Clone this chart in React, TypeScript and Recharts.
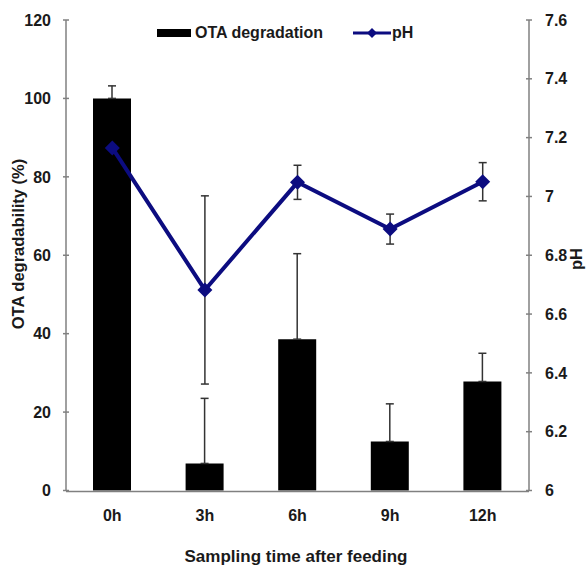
import React from "react";
import { ComposedChart, Bar, Line, XAxis, YAxis, ErrorBar, Legend } from "recharts";

const categories = ["0h", "3h", "6h", "9h", "12h"];
const otaDegradation = [100, 6.9, 38.6, 12.5, 27.8];
const otaErrorUp = [3.2, 16.6, 21.8, 9.6, 7.2];
const phValues = [7.165, 6.682, 7.048, 6.889, 7.05];
const phError = [0, 0.32, 0.058, 0.051, 0.065];
const otaTicks = [0, 20, 40, 60, 80, 100, 120];
const phTicks = [6, 6.2, 6.4, 6.6, 6.8, 7, 7.2, 7.4, 7.6];
const edgeTicks = [0, 1, 2, 3, 4, 5];

const data = categories.map((c, i) => ({
  time: c,
  ota: otaDegradation[i],
  otaErr: [0, otaErrorUp[i]],
  ph: phValues[i],
  phErr: phError[i],
}));

const FONT = "'Liberation Sans', Arial, sans-serif";
const NAVY = "#0C0C80";
const AXIS = "#808080";
const TEXT = "#1a1a1a";
const tickStyle = { fontFamily: FONT, fontWeight: "bold", fontSize: 16, fill: TEXT };

const Diamond = (props: any) => {
  const { cx, cy, index } = props;
  if (cx == null || cy == null) return <g key={`d-${index}`} />;
  const r = 7.5;
  return (
    <path
      key={`d-${index}`}
      d={`M${cx},${cy - r}L${cx + r},${cy}L${cx},${cy + r}L${cx - r},${cy}Z`}
      fill={NAVY}
    />
  );
};

const renderLegend = () => (
  <svg width={587} height={26} style={{ display: "block" }}>
    <rect x={157} y={9} width={34} height={8} fill="#000" />
    <text x={195} y={18} fontFamily={FONT} fontWeight="bold" fontSize={16} fill={TEXT}>
      OTA degradation
    </text>
    <line x1={353} y1={13} x2={391} y2={13} stroke={NAVY} strokeWidth={3} />
    <path d="M372,8L377,13L372,18L367,13Z" fill={NAVY} />
    <text x={392} y={18} fontFamily={FONT} fontWeight="bold" fontSize={16} fill={TEXT}>
      pH
    </text>
  </svg>
);

const leftTitle = () => (
  <text
    x={24}
    y={244}
    transform="rotate(-90 24 244)"
    textAnchor="middle"
    fontFamily={FONT}
    fontWeight="bold"
    fontSize={16.5}
    fill={TEXT}
  >
    OTA degradability (%)
  </text>
);

const rightTitle = () => (
  <text
    x={582}
    y={259}
    transform="rotate(-90 582 259)"
    textAnchor="middle"
    fontFamily={FONT}
    fontWeight="bold"
    fontSize={16.5}
    fill={TEXT}
  >
    pH
  </text>
);

const bottomTitle = () => (
  <text
    x={296}
    y={562}
    textAnchor="middle"
    fontFamily={FONT}
    fontWeight="bold"
    fontSize={17}
    fill={TEXT}
  >
    Sampling time after feeding
  </text>
);

export default function App() {
  return (
    <div style={{ position: "absolute", left: 0, top: 0, width: 587, height: 567, background: "#fff" }}>
      <ComposedChart
        width={587}
        height={567}
        data={data}
        margin={{ top: 20, right: 0, bottom: 74.5, left: 6 }}
      >
        <XAxis
          xAxisId="edge"
          type="number"
          domain={[0, 5]}
          ticks={edgeTicks}
          height={1}
          tick={false}
          tickSize={8}
          tickLine={{ stroke: AXIS, strokeWidth: 1.5, transform: "translate(0,-4)" }}
          axisLine={{ stroke: AXIS, strokeWidth: 1.5 }}
          allowDataOverflow
        />
        <XAxis
          xAxisId="cat"
          dataKey="time"
          type="category"
          height={1}
          axisLine={false}
          tickLine={false}
          tickSize={0}
          tickMargin={19}
          tick={tickStyle}
          interval={0}
          label={bottomTitle}
        />
        <YAxis
          yAxisId="ota"
          width={60}
          domain={[0, 120]}
          ticks={otaTicks}
          tickSize={6}
          tickMargin={9}
          tick={tickStyle}
          tickLine={{ stroke: AXIS, strokeWidth: 1.5, transform: "translate(3,0)" }}
          axisLine={{ stroke: AXIS, strokeWidth: 1.5 }}
          interval={0}
          label={leftTitle}
        />
        <YAxis
          yAxisId="ph"
          orientation="right"
          width={58}
          domain={[6, 7.6]}
          ticks={phTicks}
          tickSize={6}
          tickMargin={10}
          tick={tickStyle}
          tickLine={{ stroke: AXIS, strokeWidth: 1.5, transform: "translate(-3,0)" }}
          axisLine={{ stroke: AXIS, strokeWidth: 1.5 }}
          interval={0}
          label={rightTitle}
        />
        <Legend
          layout="horizontal"
          verticalAlign="middle"
          align="center"
          wrapperStyle={{ top: 20, left: 0, width: 587, height: 26 }}
          content={renderLegend}
        />
        <Bar
          xAxisId="cat"
          yAxisId="ota"
          dataKey="ota"
          name="OTA degradation"
          fill="#000"
          barSize={38}
          isAnimationActive={false}
        >
          <ErrorBar dataKey="otaErr" width={4} stroke="#333" strokeWidth={1.5} direction="y" />
        </Bar>
        <Line
          xAxisId="cat"
          yAxisId="ph"
          dataKey="ph"
          name="pH"
          stroke={NAVY}
          strokeWidth={4}
          dot={Diamond}
          activeDot={false}
          isAnimationActive={false}
        >
          <ErrorBar dataKey="phErr" width={4} stroke="#333" strokeWidth={1.5} direction="y" />
        </Line>
      </ComposedChart>
    </div>
  );
}
